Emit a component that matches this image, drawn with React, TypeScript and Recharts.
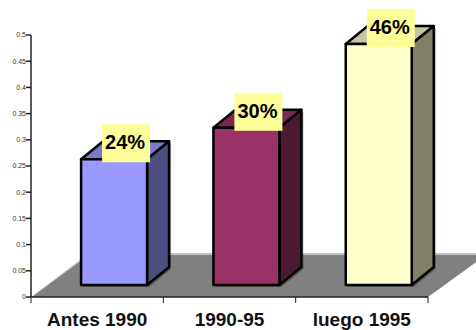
import React from "react";
import { BarChart, Bar, XAxis, YAxis, Cell, LabelList, Customized, usePlotArea } from "recharts";

const periods = ["Antes 1990", "1990-95", "luego 1995"];
const shares = [0.24, 0.3, 0.46];
const yTicks = [0, 0.05, 0.1, 0.15, 0.2, 0.25, 0.3, 0.35, 0.4, 0.45, 0.5];
const frontColors = ["#9999FF", "#993366", "#FFFFCC"];
const topColors = ["#7A7ACC", "#7A2952", "#C6C6A0"];
const sideColors = ["#4D4D80", "#4D1A33", "#808066"];

const rows = periods.map((period, i) => ({ period, share: shares[i] }));

// Extruded column look: the front face sits mid-way along the floor's depth
const DEPTH_X = 22;
const DEPTH_Y = 18;
const SHIFT_X = 17;
const SHIFT_Y = 12;

function Column(props: any) {
  const { x, y, width, height, index } = props;
  const l = x + SHIFT_X;
  const r = l + width;
  const t = y - SHIFT_Y;
  const b = t + height;
  const top = `${l},${t} ${r},${t} ${r + DEPTH_X},${t - DEPTH_Y} ${l + DEPTH_X},${t - DEPTH_Y}`;
  const side = `${r},${t} ${r + DEPTH_X},${t - DEPTH_Y} ${r + DEPTH_X},${b - DEPTH_Y} ${r},${b}`;
  const outline = `${l},${t} ${l + DEPTH_X},${t - DEPTH_Y} ${r + DEPTH_X},${t - DEPTH_Y} ${r + DEPTH_X},${b - DEPTH_Y} ${r},${b} ${l},${b}`;
  const edge = { stroke: "#000", strokeWidth: 2.5, strokeLinejoin: "round" as const };
  return (
    <g>
      <polygon points={outline} fill="rgba(0,0,0,0.3)" transform="translate(2,2)" />
      <polygon points={top} fill={topColors[index]} {...edge} />
      <polygon points={side} fill={sideColors[index]} {...edge} />
      <rect x={l} y={t} width={width} height={height} fill={frontColors[index]} {...edge} />
    </g>
  );
}

function ShareLabel(props: any) {
  const { x, y, width, value } = props;
  const cx = x + width / 2 + SHIFT_X + 12;
  const t = y - SHIFT_Y;
  return (
    <g>
      <rect x={cx - 24} y={t - 35} width={48} height={38} fill="#FFFF99" />
      <text
        x={cx - 1}
        y={t - 10}
        textAnchor="middle"
        fontFamily="Liberation Sans"
        fontWeight="bold"
        fontSize={20}
        fill="#000"
      >
        {`${Math.round(value * 100)}%`}
      </text>
    </g>
  );
}

// Grey floor receding from the category axis towards the upper right
function Floor() {
  const plot = usePlotArea();
  if (!plot) return null;
  const l = plot.x;
  const r = plot.x + plot.width;
  const b = plot.y + plot.height;
  const back = b - 42;
  const run = 58;
  return (
    <g>
      <polygon points={`${l},${b} ${l + run},${back - 2} ${r + run},${back - 2} ${r},${b}`} fill="#C4C4C4" />
      <polygon points={`${l + 1},${b} ${l + run},${back} ${r + run},${back} ${r},${b}`} fill="#808080" />
    </g>
  );
}

function PeriodTick(props: any) {
  const { x, y, payload, index } = props;
  const half = payload.offset ?? 66;
  return (
    <g>
      <line x1={x - half} x2={x - half} y1={y - 8} y2={y - 2} stroke="#222" />
      {index === periods.length - 1 && <line x1={x + half} x2={x + half} y1={y - 8} y2={y - 2} stroke="#222" />}
      <text
        x={x}
        y={y + 21}
        textAnchor="middle"
        fontFamily="Liberation Sans"
        fontWeight="bold"
        fontSize={19}
        fill="#111"
      >
        {payload.value}
      </text>
    </g>
  );
}

export default function App() {
  return (
    <div style={{ position: "absolute", left: 0, top: 0 }}>
      <BarChart
        width={476}
        height={330}
        data={rows}
        margin={{ top: 35, right: 48, bottom: 0, left: 0 }}
        barCategoryGap="25%"
      >
        <Customized component={Floor} />
        <XAxis
          dataKey="period"
          height={33}
          interval={0}
          tickLine={false}
          axisLine={{ stroke: "#222", strokeWidth: 1.5 }}
          tick={PeriodTick}
        />
        <YAxis
          width={31}
          domain={[0, 0.5]}
          ticks={yTicks}
          interval={0}
          tickSize={5}
          tickMargin={0}
          axisLine={{ stroke: "#222", strokeWidth: 1.5 }}
          tickLine={{ stroke: "#222", strokeWidth: 1.5 }}
          tick={{ fontSize: 7, fontFamily: "Liberation Sans", fill: "#333" }}
        />
        <Bar dataKey="share" shape={Column} isAnimationActive={false}>
          {rows.map((row) => (
            <Cell key={row.period} />
          ))}
          <LabelList dataKey="share" content={ShareLabel} />
        </Bar>
      </BarChart>
    </div>
  );
}
